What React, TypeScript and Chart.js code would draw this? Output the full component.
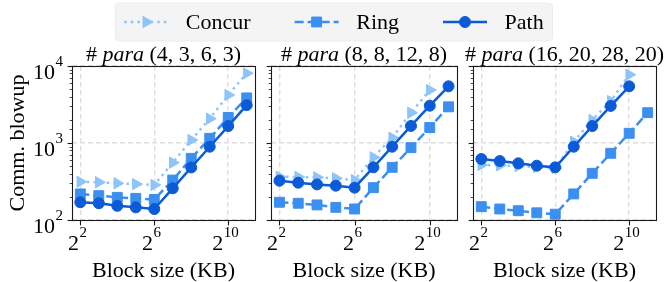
import React, { useEffect, useRef } from 'react';
import { Chart, registerables } from 'chart.js';

Chart.register(...registerables);

// ---------- data ----------
const blockSizesKB = [4, 8, 16, 32, 64, 128, 256, 512, 1024, 2048];
const seriesLabels = ['Concur', 'Ring', 'Path'];
const panelParams = ['(4, 3, 6, 3)', '(8, 8, 12, 8)', '(16, 20, 28, 20)'];

const concurA = [314, 309, 300, 293, 285, 555, 1094, 2070, 4200, 8040];
const ringA = [218, 207, 197, 191, 185, 330, 632, 1150, 2150, 3850];
const pathA = [170, 165, 153, 146, 139, 258, 481, 895, 1660, 3100];

const concurB = [365, 362, 358, 348, 330, 652, 1170, 2470, 4870, null];
const ringB = [170, 165, 157, 146, 139, 263, 483, 870, 1590, 2950];
const pathB = [324, 305, 290, 279, 263, 483, 895, 1665, 3050, 5450];

const concurC = [518, 513, 502, 488, 473, 1040, 1990, 3510, 7700, null];
const ringC = [149, 139, 132, 124, 119, 218, 404, 735, 1337, 2475];
const pathC = [620, 583, 545, 507, 483, 895, 1660, 3030, 5450, null];

const yMajorTicks = [100, 1000, 10000];
const xMajorTicks = [4, 64, 1024];
const yLimits = [100, 10000];
const xLimits = [2.93, 2797];

const panelSeries = [
  [concurA, ringA, pathA],
  [concurB, ringB, pathB],
  [concurC, ringC, pathC],
];

// ---------- styles ----------
const FONT = "'Liberation Serif', 'Times New Roman', Times, serif";
const FS = 22;
const SUP = 15;
const AXIS = '#1a1a1a';
const GRID = '#dedede';
const W = 664;
const H = 282;
const PLOT_TOP = 66;
const PLOT_BOTTOM = 220;
const panelAreas = [
  { left: 72, right: 255 },
  { left: 271, right: 457 },
  { left: 473, right: 661 },
];
const seriesStyles = [
  { color: '#8dc4f9', dash: [2.5, 4.1], pointStyle: 'triangle', rotation: 90, radius: 6.5 },
  { color: '#3b8ff0', dash: [9, 4], pointStyle: 'rect', rotation: 0, radius: 7 },
  { color: '#0b5bd7', dash: [], pointStyle: 'circle', rotation: 0, radius: 5.5 },
];

const isMajor = (v: number) => Math.abs(Math.log10(v) - Math.round(Math.log10(v))) < 1e-6;

function drawPow(ctx: CanvasRenderingContext2D, base: string, exp: string, x: number, baseY: number, align: 'right' | 'center') {
  ctx.font = `${FS}px ${FONT}`;
  const wb = ctx.measureText(base).width;
  ctx.font = `${SUP}px ${FONT}`;
  const we = ctx.measureText(exp).width;
  const total = wb + 0.5 + we;
  const x0 = align === 'right' ? x - total : x - total / 2;
  ctx.fillStyle = '#000';
  ctx.textAlign = 'left';
  ctx.textBaseline = 'alphabetic';
  ctx.font = `${FS}px ${FONT}`;
  ctx.fillText(base, x0, baseY);
  ctx.font = `${SUP}px ${FONT}`;
  ctx.fillText(exp, x0 + wb + 0.5, baseY - 13);
}

function drawMarker(ctx: CanvasRenderingContext2D, style: string, x: number, y: number, r: number) {
  ctx.beginPath();
  if (style === 'triangle') {
    ctx.moveTo(x + r, y);
    ctx.lineTo(x - r / 2, y + r * 0.866);
    ctx.lineTo(x - r / 2, y - r * 0.866);
    ctx.closePath();
  } else if (style === 'rect') {
    const s = r * Math.SQRT1_2;
    ctx.rect(x - s, y - s, 2 * s, 2 * s);
  } else {
    ctx.arc(x, y, r, 0, Math.PI * 2);
  }
  ctx.fill();
  ctx.stroke();
}

function drawLegend(ctx: CanvasRenderingContext2D) {
  const pad = 0.4 * FS;
  const handleLen = 2 * FS;
  const textPad = 0.8 * FS;
  const colSpace = 2 * FS;
  ctx.font = `${FS}px ${FONT}`;
  const widths = seriesLabels.map((l) => ctx.measureText(l).width);
  const inner = widths.reduce((a, w) => a + handleLen + textPad + w, 0) + colSpace * (seriesLabels.length - 1);
  const boxW = inner + 2 * pad;
  const boxX = 334 - boxW / 2;
  const boxY = 3;
  const boxH = 38;
  const cy = boxY + boxH / 2;
  ctx.save();
  ctx.fillStyle = '#f4f4f4';
  ctx.strokeStyle = '#ececec';
  ctx.lineWidth = 1;
  ctx.beginPath();
  (ctx as any).roundRect(boxX, boxY, boxW, boxH, 4);
  ctx.fill();
  ctx.stroke();
  let x = boxX + pad;
  seriesLabels.forEach((label, i) => {
    const st = seriesStyles[i];
    ctx.strokeStyle = st.color;
    ctx.fillStyle = st.color;
    ctx.lineWidth = 2.5;
    ctx.lineCap = 'butt';
    ctx.setLineDash(st.dash);
    ctx.beginPath();
    ctx.moveTo(x, cy);
    ctx.lineTo(x + handleLen, cy);
    ctx.stroke();
    ctx.setLineDash([]);
    ctx.lineWidth = 1;
    drawMarker(ctx, st.pointStyle, x + handleLen / 2, cy, st.radius);
    ctx.fillStyle = '#000';
    ctx.font = `${FS}px ${FONT}`;
    ctx.textAlign = 'left';
    ctx.textBaseline = 'middle';
    ctx.fillText(label, x + handleLen + textPad, cy + 1);
    x += handleLen + textPad + widths[i] + colSpace;
  });
  ctx.restore();
}

function decorPlugin(idx: number) {
  return {
    id: 'decor' + idx,
    afterDraw(chart: any) {
      const ctx: CanvasRenderingContext2D = chart.ctx;
      const { left, right, top, bottom } = chart.chartArea;
      const xs = chart.scales.x;
      const ys = chart.scales.y;
      ctx.save();
      // frame
      ctx.strokeStyle = AXIS;
      ctx.lineWidth = 1.1;
      ctx.setLineDash([]);
      ctx.strokeRect(Math.round(left) + 0.5, Math.round(top) + 0.5, Math.round(right) - Math.round(left), Math.round(bottom) - Math.round(top));
      // y ticks
      ys.ticks.forEach((t: any) => {
        const y = Math.round(ys.getPixelForValue(t.value)) + 0.5;
        const major = isMajor(t.value);
        ctx.lineWidth = major ? 1.1 : 0.8;
        const len = major ? 4.9 : 2.8;
        ctx.beginPath();
        ctx.moveTo(Math.round(left) + 0.5 - len, y);
        ctx.lineTo(Math.round(left) + 0.5, y);
        ctx.stroke();
      });
      // x ticks
      xMajorTicks.forEach((v) => {
        const x = Math.round(xs.getPixelForValue(v)) + 0.5;
        ctx.lineWidth = 1.1;
        ctx.beginPath();
        ctx.moveTo(x, Math.round(bottom) + 0.5);
        ctx.lineTo(x, Math.round(bottom) + 0.5 + 4.9);
        ctx.stroke();
        drawPow(ctx, '2', String(Math.round(Math.log2(v))), x - 3, bottom + 30, 'center');
      });
      if (idx === 0) {
        yMajorTicks.forEach((v) => {
          const y = ys.getPixelForValue(v);
          drawPow(ctx, '10', String(Math.round(Math.log10(v))), left - 9, y + 12.5, 'right');
        });
        drawLegend(ctx);
      }
      // panel title
      const segs: [string, string][] = [
        ['# ', 'normal'],
        ['para', 'italic'],
        [' ' + panelParams[idx], 'normal'],
      ];
      let total = 0;
      segs.forEach(([s, st]) => {
        ctx.font = `${st} ${FS}px ${FONT}`;
        total += ctx.measureText(s).width;
      });
      let tx = (left + right) / 2 - total / 2;
      ctx.fillStyle = '#000';
      ctx.textAlign = 'left';
      ctx.textBaseline = 'alphabetic';
      segs.forEach(([s, st]) => {
        ctx.font = `${st} ${FS}px ${FONT}`;
        ctx.fillText(s, tx, 60.5);
        tx += ctx.measureText(s).width;
      });
      ctx.restore();
    },
  };
}

function buildChart(canvas: HTMLCanvasElement, idx: number) {
  const area = panelAreas[idx];
  const datasets = seriesLabels.map((label, s) => {
    const st = seriesStyles[s];
    const vals = panelSeries[idx][s];
    const pts: { x: number; y: number }[] = [];
    vals.forEach((v, i) => {
      if (v != null) pts.push({ x: blockSizesKB[i], y: v as number });
    });
    return {
      label,
      data: pts,
      borderColor: st.color,
      backgroundColor: st.color,
      pointBackgroundColor: st.color,
      pointBorderColor: st.color,
      borderWidth: 2.5,
      borderDash: st.dash,
      borderCapStyle: 'butt',
      pointStyle: st.pointStyle,
      pointRotation: st.rotation,
      pointRadius: st.radius,
      pointBorderWidth: 1,
      tension: 0,
      fill: false,
      order: 3 - s,
    };
  });
  return new Chart(canvas, {
    type: 'line',
    data: { datasets } as any,
    options: {
      animation: false,
      responsive: false,
      events: [],
      layout: {
        padding: { left: idx === 0 ? 0 : area.left, right: W - area.right, top: PLOT_TOP, bottom: 0 },
      },
      plugins: {
        legend: { display: false },
        tooltip: { enabled: false },
        title: { display: false },
      },
      scales: {
        x: {
          type: 'logarithmic',
          min: xLimits[0],
          max: xLimits[1],
          afterBuildTicks: (s: any) => {
            s.ticks = xMajorTicks.map((v) => ({ value: v }));
          },
          afterFit: (s: any) => {
            s.height = H - PLOT_BOTTOM;
          },
          ticks: { display: false },
          grid: { color: GRID, lineWidth: 1.4, drawTicks: false },
          border: { display: false, dash: [5, 3] },
          title: {
            display: true,
            text: 'Block size (KB)',
            color: '#000',
            font: { family: FONT, size: FS, lineHeight: 1 },
            padding: { top: 0, bottom: 0 },
          },
        },
        y: {
          type: 'logarithmic',
          min: yLimits[0],
          max: yLimits[1],
          afterFit: (s: any) => {
            s.width = idx === 0 ? area.left : 0;
          },
          ticks: { display: false },
          grid: {
            color: (c: any) => (c.tick && isMajor(c.tick.value) ? GRID : 'rgba(0,0,0,0)'),
            lineWidth: 1.4,
            drawTicks: false,
          },
          border: { display: false, dash: [5, 3] },
          title: {
            display: idx === 0,
            text: 'Comm. blowup',
            color: '#000',
            font: { family: FONT, size: FS, lineHeight: 1.2 },
            padding: { top: 5, bottom: 0 },
          },
        },
      },
    } as any,
    plugins: [decorPlugin(idx)],
  });
}

export default function App() {
  const r0 = useRef<HTMLCanvasElement>(null);
  const r1 = useRef<HTMLCanvasElement>(null);
  const r2 = useRef<HTMLCanvasElement>(null);
  useEffect(() => {
    const refs = [r0, r1, r2];
    const charts = refs.map((r, i) => buildChart(r.current as HTMLCanvasElement, i));
    return () => charts.forEach((c) => c.destroy());
  }, []);
  const cs: React.CSSProperties = { position: 'absolute', left: 0, top: 0 };
  return (
    <div style={{ position: 'absolute', left: 0, top: 0, width: W, height: H, background: '#fff' }}>
      <canvas ref={r0} width={W} height={H} style={cs} />
      <canvas ref={r1} width={W} height={H} style={cs} />
      <canvas ref={r2} width={W} height={H} style={cs} />
    </div>
  );
}
